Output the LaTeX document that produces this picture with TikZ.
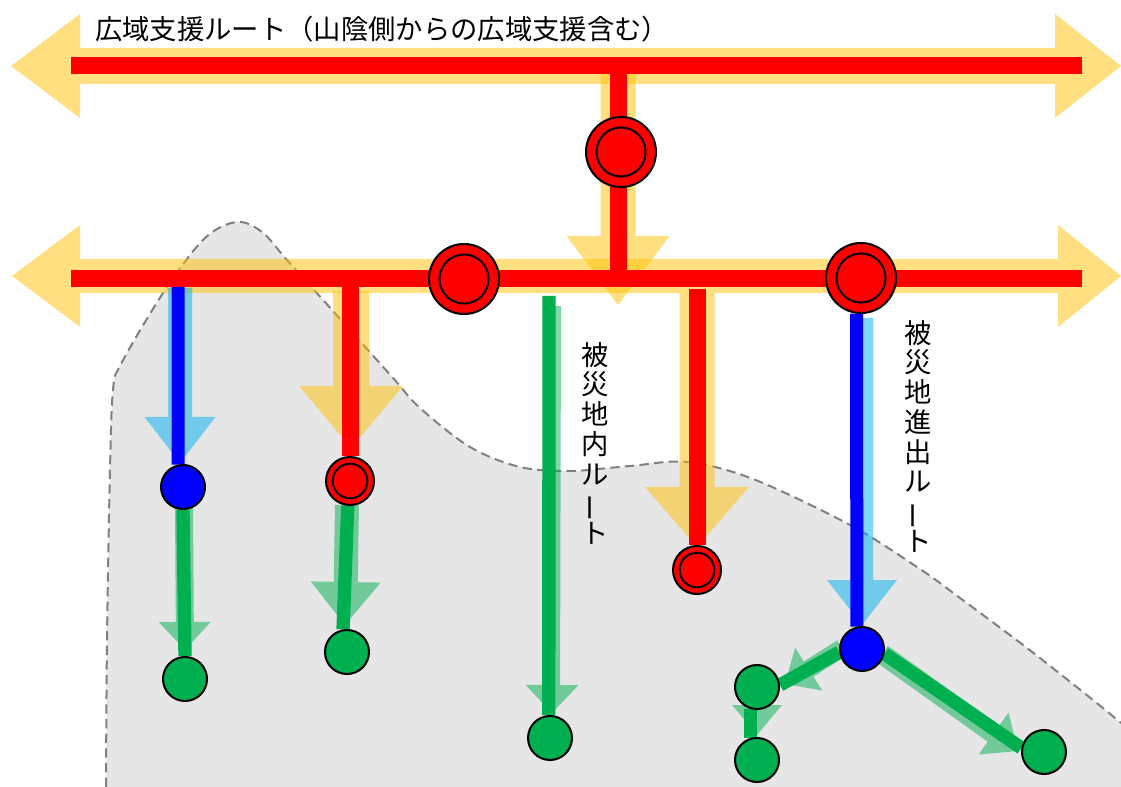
\documentclass[tikz,border=0pt]{standalone}
\usepackage{fontspec}
\usepackage{graphicx}
\newfontfamily\jpfont{Noto Sans CJK JP}
\usetikzlibrary{calc}
\definecolor{yel}{HTML}{FFC000}
\definecolor{ltblue}{HTML}{00B0F0}
\definecolor{grn}{HTML}{00B050}
\definecolor{regiongray}{HTML}{E6E6E6}
\definecolor{dashgray}{HTML}{808080}
\pgfdeclarelayer{regionlayer}
\pgfdeclarelayer{arrowlayer}
\pgfdeclarelayer{linelayer}
\pgfsetlayers{regionlayer,arrowlayer,linelayer,main}
% block arrow: style, tail, tip, shaft half-width, head half-width, head length (px)
\newcommand\blockarrow[6]{%
  \coordinate (baC) at ($#3!#6*0.75pt!#2$);
  \path[#1] ($#2!#4*0.75pt!90:#3$) -- ($(baC)!#4*0.75pt!90:#3$) -- ($(baC)!#5*0.75pt!90:#3$) -- #3 -- ($(baC)!#5*0.75pt!-90:#3$) -- ($(baC)!#4*0.75pt!-90:#3$) -- ($#2!#4*0.75pt!-90:#3$) -- cycle;}
\begin{document}
\begin{tikzpicture}[x=0.75pt,y=-0.75pt,
  regionedge/.style={draw=dashgray, line width=1.5pt, dash pattern=on 7pt off 4pt},
  yelarrow/.style={fill=yel, fill opacity=0.5},
  bluearrow/.style={fill=ltblue, fill opacity=0.5},
  grnarrow/.style={fill=grn, fill opacity=0.5},
  redline/.style={draw=red, line width=12.75pt},
  blueline/.style={draw=blue, line width=9.75pt},
  grnline/.style={draw=grn, line width=10pt},
  stn/.style={circle, draw=black, line width=1.5pt, inner sep=0pt},
  bigstn/.style={stn, fill=red, minimum size=52.5pt},
  smallstn/.style={stn, fill=red, minimum size=36pt},
  bluestn/.style={stn, fill=blue, minimum size=33pt},
  grnstn/.style={stn, fill=grn, minimum size=33pt},
  ring/.style={draw=black, line width=1.5pt},
  titletext/.style={font=\jpfont\fontsize{20.5}{24}\selectfont, inner sep=0pt, anchor=base west},
  vtext/.style={font=\jpfont\fontsize{20.5}{22.3}\selectfont, align=center, inner sep=0pt, anchor=north}
]
\useasboundingbox (0,0) rectangle (1121,787);

% stations
\node[bigstn] (T) at (621,152) {};
\node[bigstn] (L2) at (464,279) {};
\node[bigstn] (R2) at (861,278) {};
\node[smallstn] (rs1) at (350,481) {};
\node[smallstn] (rs2) at (697,570) {};
\node[bluestn] (b1) at (183,487) {};
\node[bluestn] (b2) at (862,649) {};
\node[grnstn] (g1) at (185,679) {};
\node[grnstn] (g2) at (347,652) {};
\node[grnstn] (g3) at (550,738) {};
\node[grnstn] (g4) at (757,687) {};
\node[grnstn] (g5) at (757,760) {};
\node[grnstn] (g6) at (1044,752) {};
\draw[ring] (T.center) circle[radius=18.4pt];
\draw[ring] (L2.center) circle[radius=18.4pt];
\draw[ring] (R2.center) circle[radius=18.4pt];
\draw[ring] (rs1.center) circle[radius=13pt];
\draw[ring] (rs2.center) circle[radius=13pt];

% junction coordinates
\coordinate (tbL) at (71,65.5);
\coordinate (tbR) at (1082,65.5);
\coordinate (mbL) at (71,278.5);
\coordinate (mbR) at (1082,278.5);
\coordinate (vtop) at (618,74);
\coordinate (vbot) at (618,270);
\coordinate (j1) at (178,287);
\coordinate (j2) at (350,287);
\coordinate (j3) at (549,296);
\coordinate (j4) at (697,289);

% affected region
\begin{pgfonlayer}{regionlayer}
\fill[regiongray] plot[smooth,tension=0.55] coordinates {(106,787) (107,640) (110,470) (113,390) (121,364) (165,290) (205,238) (237,222) (262,232) (287,260) (333,311) (393,378) (420,408) (470,447) (520,467) (570,471) (630,466) (687,462) (753,479) (850,525) (920,569) (960,598) (1027,648) (1093,700) (1121,723)} -- (1121,787) -- cycle;
\draw[regionedge] plot[smooth,tension=0.55] coordinates {(106,787) (107,640) (110,470) (113,390) (121,364) (165,290) (205,238) (237,222) (262,232) (287,260) (333,311) (393,378) (420,408) (470,447) (520,467) (570,471) (630,466) (687,462) (753,479) (850,525) (920,569) (960,598) (1027,648) (1093,700) (1121,723)};
\end{pgfonlayer}

% wide pale arrows
\begin{pgfonlayer}{arrowlayer}
\path[yelarrow] (11,66) -- (80,14) -- (80,48) -- (1055,48) -- (1055,14) -- (1121,66) -- (1055,118) -- (1055,84) -- (80,84) -- (80,118) -- cycle;
\path[yelarrow] (12,276) -- (80,225) -- (80,259) -- (1058,259) -- (1058,225) -- (1121,276) -- (1058,327) -- (1058,293) -- (80,293) -- (80,327) -- cycle;
\blockarrow{yelarrow}{(618,74)}{(618,305)}{17.5}{51.5}{69}
\blockarrow{yelarrow}{(351,291)}{(351,448)}{18}{52}{62}
\blockarrow{yelarrow}{(697,293)}{(697,547)}{17.5}{52}{60}
\blockarrow{bluearrow}{(180,288)}{(180,463)}{12}{35.5}{46}
\blockarrow{bluearrow}{(862,318)}{(862,625)}{11}{35}{45}
\blockarrow{grnarrow}{(184,508)}{(185,650)}{9}{26}{28}
\blockarrow{grnarrow}{(347,505)}{(345,625)}{12}{35}{43}
\blockarrow{grnarrow}{(553,306)}{(552,713)}{8}{26.5}{28}
\blockarrow{grnarrow}{(842,648)}{(785,684)}{9}{25.4}{28}
\blockarrow{grnarrow}{(757,700)}{(757,735)}{8}{25}{30}
\blockarrow{grnarrow}{(882,654)}{(1018,751)}{10}{25.7}{30}
\end{pgfonlayer}

% route lines
\begin{pgfonlayer}{linelayer}
\draw[redline] (tbL) -- (tbR);
\draw[redline] (mbL) -- (mbR);
\draw[redline] (vtop) -- (vbot);
\draw[redline] (j2) -- (rs1.north);
\draw[redline] (j4) -- (rs2.north);
\draw[blueline] (j1) -- (b1.102);
\draw[blueline] (R2.263) -- (b2.103);
\draw[grnline] (b1.south) -- (g1.north);
\draw[grnline] (rs1.265) -- (g2.100);
\draw[grnline] (j3) -- (g3.93);
\draw[grnline] (b2.188) -- (g4.5);
\draw[grnline] (g4.253) -- (g5.107);
\draw[grnline] (b2.-12) -- (g6.170);
\end{pgfonlayer}

% texts
\node[titletext] (title) at (95,40) {広域支援ルート（山陰側からの広域支援含む）};
\node[vtext] (vt1) at (595,342) {被\\災\\地\\内\\ル\\\rotatebox[origin=c]{90}{ー}\\ト};
\node[vtext] (vt2) at (918,320) {被\\災\\地\\進\\出\\ル\\\rotatebox[origin=c]{90}{ー}\\ト};
\end{tikzpicture}
\end{document}
